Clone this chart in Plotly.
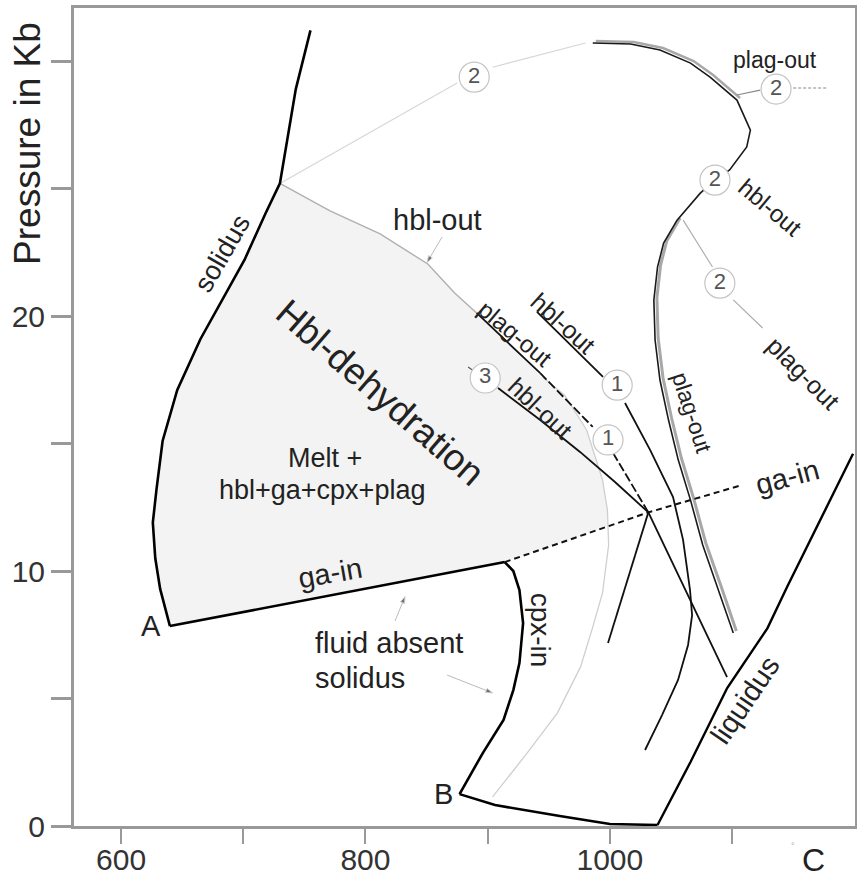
import plotly.graph_objects as go

FONT = "Liberation Sans, Arial, Helvetica, sans-serif"

# ---------------- axes ----------------
x_range = [561.5, 1200.6]
y_range = [0, 32.08]
x_tickvals = [600, 700, 800, 900, 1000, 1100]
x_ticktext = ["600", "", "800", "", "1000", ""]
y_tickvals = [0, 5, 10, 15, 20, 25, 30]
y_ticktext = ["0", "", "10", "", "20", "", ""]

# ---------------- curves (T in deg C, P in kb) ----------------
solidus_T = [755, 743, 730, 718, 701, 687, 665, 646, 634, 629, 626, 628, 632, 640]
solidus_P = [31.2, 28.9, 25.2, 24.0, 22.2, 21.0, 19.1, 17.1, 15.1, 13.2, 11.9, 10.5, 9.3, 7.84]

ga_in_T = [640, 914]
ga_in_P = [7.84, 10.35]

ga_in_dashed_T = [914, 1031.5, 1108]
ga_in_dashed_P = [10.35, 12.3, 13.37]

cpx_in_T = [914, 921, 926, 929, 926, 921, 913, 896, 877]
cpx_in_P = [10.35, 10.0, 9.25, 7.96, 6.39, 5.33, 4.16, 2.86, 1.25]

base_T = [877, 906, 959, 1000, 1039]
base_P = [1.25, 0.82, 0.39, 0.08, 0.04]

liquidus_T = [1039, 1066, 1096, 1129, 1145, 1172, 1199]
liquidus_P = [0.04, 2.51, 5.41, 7.76, 9.37, 12.0, 14.6]

arc_T = [904, 931, 957, 976, 986, 994, 999, 998.5, 998, 994, 981, 963, 945]
arc_P = [1.14, 2.78, 4.43, 6.24, 7.80, 9.14, 11.02, 11.75, 12.39, 13.57, 15.53, 16.90, 17.6]
arc_fill_start = 7

hbl_out_top_T = [730, 771, 812, 851, 873, 891]
hbl_out_top_P = [25.2, 24.12, 23.22, 22.04, 20.90, 20.12]

curve2_lower_T = [730, 875]
curve2_lower_P = [25.2, 29.14]
curve2_upper_T = [904, 980]
curve2_upper_P = [29.76, 30.71]

plag_out1_solid_T = [891, 943]
plag_out1_solid_P = [20.12, 17.76]
plag_out1_dash_T = [943, 986]
plag_out1_dash_P = [17.76, 15.65]
plag_out1_low_T = [1002.6, 1031.5]
plag_out1_low_P = [14.63, 12.3]

junction_sw_T = [1031.5, 998.5]
junction_sw_P = [12.3, 7.18]

hbl_out3_tick_T = [884, 890]
hbl_out3_tick_P = [18.0, 17.8]
hbl_out3_T = [908.5, 943, 975.6, 1004.2, 1031.5, 1065.6, 1095.9]
hbl_out3_P = [17.18, 15.92, 14.67, 13.49, 12.3, 8.86, 5.84]

hbl_out1_a_T = [940.4, 994.4]
hbl_out1_a_P = [20.16, 17.61]
hbl_out1_b_T = [1012.4, 1032.9, 1051.7, 1059.9, 1065.6, 1067.3, 1064.0, 1055.8, 1042.7, 1028.8]
hbl_out1_b_P = [16.59, 14.75, 12.90, 11.22, 9.25, 8.27, 7.10, 5.73, 4.35, 2.98]

big_curve_T = [986, 1017, 1041, 1066, 1082, 1104, 1115, 1112, 1098, 1086, 1074, 1055, 1044,
               1039, 1036, 1037, 1041, 1048, 1056, 1066, 1076, 1089, 1101]
big_curve_P = [30.71, 30.67, 30.43, 29.92, 29.37, 28.47, 27.29, 26.63, 25.73, 25.33, 24.82,
               23.76, 22.86, 21.92, 20.63, 19.06, 17.49, 15.92, 14.35, 12.78, 11.02, 9.25, 7.57]

leader_plag2_a_T = [1060, 1084]
leader_plag2_a_P = [23.76, 21.92]
leader_plag2_b_T = [1101, 1125]
leader_plag2_b_P = [20.63, 19.53]

leader_top_T = [1104, 1123]
leader_top_P = [28.67, 28.86]
leader_top_dot_T = [1150, 1178]
leader_top_dot_P = [28.94, 28.94]

arrow_hbl_T = [862.7, 850.4]
arrow_hbl_P = [23.1, 22.1]
arrow_fluid1_T = [824.2, 832.4]
arrow_fluid1_P = [8.04, 9.0]
arrow_fluid2_T = [866.8, 904]
arrow_fluid2_P = [5.92, 5.22]

circle_T = [889, 1136, 1086, 1090, 1006, 998.5, 898]
circle_P = [29.37, 28.9, 25.33, 21.29, 17.29, 15.14, 17.57]
circle_label = ["2", "2", "2", "2", "1", "1", "3"]

# labels: text, T, P, angle, size
label_text = ["solidus", "hbl-out", "Hbl-dehydration", "Melt +", "hbl+ga+cpx+plag",
              "ga-in", "cpx-in", "liquidus", "ga-in", "plag-out", "hbl-out", "hbl-out",
              "plag-out", "hbl-out", "plag-out", "plag-out", "A", "B"]
label_T = [683, 858.6, 812, 767, 764.5, 771, 943, 1110.6, 1145, 922.4, 961.7, 942.9,
           1135.2, 1131.1, 1158.1, 1067.3, 624.5, 863.5]
label_P = [22.47, 23.76, 17.02, 14.43, 13.18, 9.92, 7.69, 4.94, 13.69, 19.33, 19.73, 16.39,
           30.04, 24.24, 17.76, 16.2, 7.84, 1.25]
label_angle = [-60, 0, 41, 0, 0, -10, 90, -56, -15, 40, 42, 43, 0, 40, 45, 72, 0, 0]
label_size = [27, 29, 37, 27, 27, 29, 28, 29, 29, 24, 25, 25, 23, 24, 25, 23, 29, 29]

fluid_text = ["fluid absent", "solidus"]
fluid_T = [757, 757]
fluid_P = [7.18, 5.80]

fig = go.Figure()

# shaded Hbl-dehydration field
fill_T = solidus_T[2:] + [ga_in_T[-1]] + arc_T[arc_fill_start:] + hbl_out_top_T[::-1]
fill_P = solidus_P[2:] + [ga_in_P[-1]] + arc_P[arc_fill_start:] + hbl_out_top_P[::-1]
fig.add_trace(go.Scatter(x=fill_T, y=fill_P, fill="toself", fillcolor="#f3f3f3",
                         line=dict(width=0), mode="lines", hoverinfo="skip"))


def add_line(T, P, color="#111", width=1.6, dash="solid"):
    fig.add_trace(go.Scatter(x=T, y=P, mode="lines",
                             line=dict(color=color, width=width, dash=dash),
                             hoverinfo="skip"))


def add_arrow(T, P):
    fig.add_trace(go.Scatter(x=T, y=P, mode="lines+markers",
                             line=dict(color="#bbb", width=1),
                             marker=dict(symbol="arrow", size=[0, 7], angleref="previous",
                                         color="#333"),
                             hoverinfo="skip"))


# light grey curves
add_line(arc_T, arc_P, "#cfcfcf", 1.3)
add_line(curve2_lower_T, curve2_lower_P, "#d6d6d6", 1.1)
add_line(curve2_upper_T, curve2_upper_P, "#d6d6d6", 1.1)
add_line(hbl_out_top_T, hbl_out_top_P, "#b0b0b0", 1.4)

# grey double band along the big curve
band_T = [t + 2.5 for t in big_curve_T]
band_P = [p + 0.08 for p in big_curve_P]
add_line(band_T[:6], band_P[:6], "#a8a8a8", 2.5)
add_line(band_T[11:], band_P[11:], "#a8a8a8", 3)
add_line(big_curve_T, big_curve_P, "#1a1a1a", 1.6)

# main boundaries
add_line(solidus_T, solidus_P, "#000", 2.6)
add_line(ga_in_T, ga_in_P, "#000", 2.6)
add_line(ga_in_dashed_T, ga_in_dashed_P, "#111", 2.0, "6px,4px")
add_line(cpx_in_T, cpx_in_P, "#000", 2.6)
add_line(base_T, base_P, "#000", 2.6)
add_line(liquidus_T, liquidus_P, "#000", 2.4)

# experimental curves
add_line(plag_out1_solid_T, plag_out1_solid_P, "#111", 1.8)
add_line(plag_out1_dash_T, plag_out1_dash_P, "#111", 1.8, "9px,3px")
add_line(plag_out1_low_T, plag_out1_low_P, "#111", 1.8, "9px,3px")
add_line(junction_sw_T, junction_sw_P, "#111", 1.8)
add_line(hbl_out3_tick_T, hbl_out3_tick_P, "#555", 1.2)
add_line(hbl_out3_T, hbl_out3_P, "#111", 1.8)
add_line(hbl_out1_a_T, hbl_out1_a_P, "#111", 1.8)
add_line(hbl_out1_b_T, hbl_out1_b_P, "#111", 1.8)

# leaders
add_line(leader_plag2_a_T, leader_plag2_a_P, "#aaa", 1.1)
add_line(leader_plag2_b_T, leader_plag2_b_P, "#aaa", 1.1)
add_line(leader_top_T, leader_top_P, "#888", 1.1)
add_line(leader_top_dot_T, leader_top_dot_P, "#888", 1.1, "3px,2px")
add_arrow(arrow_hbl_T, arrow_hbl_P)
add_arrow(arrow_fluid1_T, arrow_fluid1_P)
add_arrow(arrow_fluid2_T, arrow_fluid2_P)

# numbered circles
fig.add_trace(go.Scatter(x=circle_T, y=circle_P, mode="markers+text", text=circle_label,
                         textposition="middle center",
                         textfont=dict(family=FONT, size=22, color="#555"),
                         marker=dict(size=30, color="white", line=dict(color="#c4c4c4", width=1.2)),
                         hoverinfo="skip"))

annotations = []
for t, x, y, a, s in zip(label_text, label_T, label_P, label_angle, label_size):
    annotations.append(dict(text=t, x=x, y=y, xref="x", yref="y", showarrow=False,
                            xanchor="center", yanchor="middle",
                            textangle=a, font=dict(family=FONT, size=s, color="#222")))
for t, x, y in zip(fluid_text, fluid_T, fluid_P):
    annotations.append(dict(text=t, x=x, y=y, xref="x", yref="y", showarrow=False,
                            xanchor="left", yanchor="middle",
                            font=dict(family=FONT, size=29, color="#222")))
annotations.append(dict(text="Pressure in Kb", x=-0.059, y=0.835, xref="paper", yref="paper",
                        showarrow=False, textangle=-90, xanchor="center", yanchor="middle",
                        font=dict(family=FONT, size=37, color="#222")))
annotations.append(dict(text="C", x=0.947, y=-0.041, xref="paper", yref="paper",
                        showarrow=False, xanchor="center", yanchor="middle",
                        font=dict(family=FONT, size=32, color="#222")))
annotations.append(dict(text="°", x=0.92, y=-0.025, xref="paper", yref="paper",
                        showarrow=False, xanchor="center", yanchor="middle",
                        font=dict(family=FONT, size=9, color="#aaa")))

axis_common = dict(showgrid=False, zeroline=False, showline=True, linecolor="#999",
                   linewidth=3, mirror=True, ticks="outside", tickcolor="#999",
                   automargin=False,
                   tickfont=dict(family=FONT, size=30, color="#333"))

fig.update_layout(
    width=857, height=878,
    margin=dict(l=74, r=2, t=8, b=52),
    paper_bgcolor="white", plot_bgcolor="white",
    showlegend=False,
    annotations=annotations,
    xaxis=dict(range=x_range, tickvals=x_tickvals, ticktext=x_ticktext,
               ticklen=15, tickwidth=2, ticklabelstandoff=-10, **axis_common),
    yaxis=dict(range=y_range, tickvals=y_tickvals, ticktext=y_ticktext,
               ticklen=20, tickwidth=2.5, ticklabelstandoff=0, **axis_common),
)

fig.write_html(
    "out.html",
    config={"displayModeBar": False},
    post_script="document.body.style.margin='0';document.body.style.overflow='hidden';",
)
